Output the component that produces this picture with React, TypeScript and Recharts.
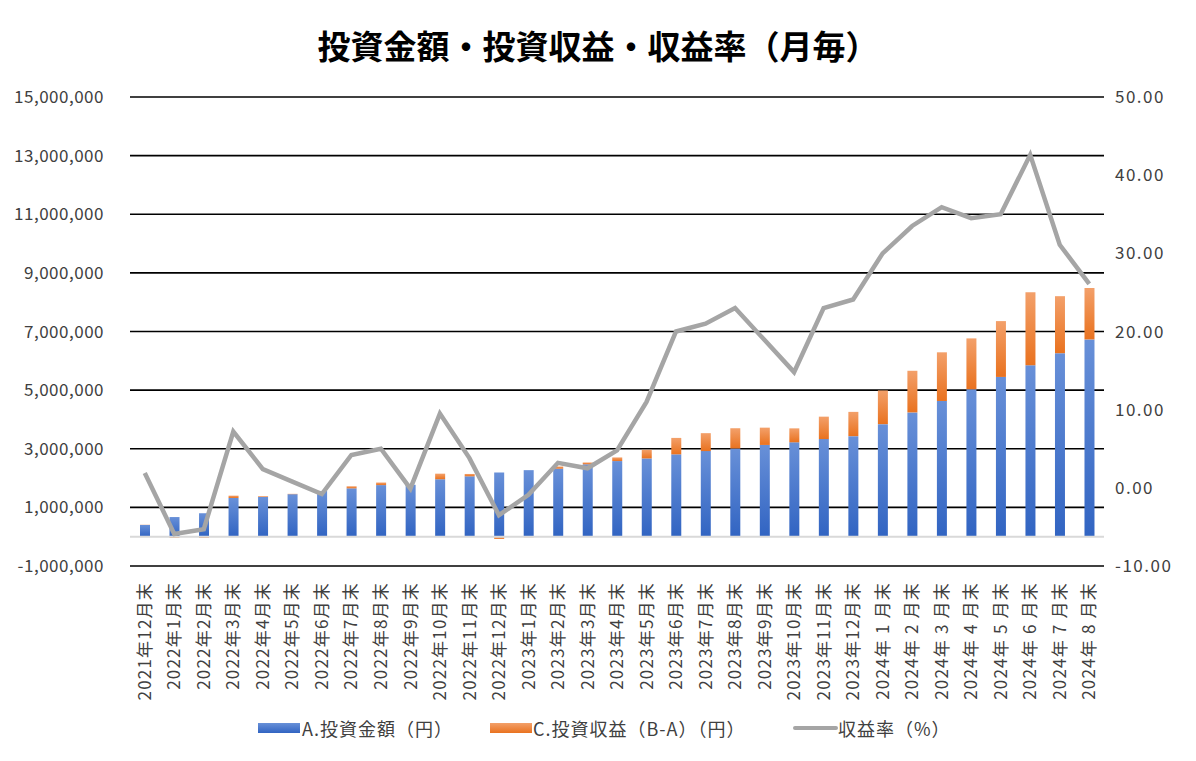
import React from 'react'
import {
  ComposedChart,
  Bar,
  Line,
  XAxis,
  YAxis,
  CartesianGrid,
  ReferenceLine,
} from 'recharts'

const months = [
  '2021年12月末',
  '2022年1月末', '2022年2月末', '2022年3月末', '2022年4月末', '2022年5月末', '2022年6月末',
  '2022年7月末', '2022年8月末', '2022年9月末', '2022年10月末', '2022年11月末', '2022年12月末',
  '2023年1月末', '2023年2月末', '2023年3月末', '2023年4月末', '2023年5月末', '2023年6月末',
  '2023年7月末', '2023年8月末', '2023年9月末', '2023年10月末', '2023年11月末', '2023年12月末',
  '2024年 1 月末', '2024年 2 月末', '2024年 3 月末', '2024年 4 月末',
  '2024年 5 月末', '2024年 6 月末', '2024年 7 月末', '2024年 8 月末',
]

// A. 投資金額（円）
const investment = [
  400000,
  670000, 800000, 1320000, 1350000, 1450000, 1560000,
  1650000, 1760000, 1770000, 1960000, 2060000, 2190000,
  2270000, 2320000, 2470000, 2580000, 2670000, 2810000,
  2920000, 3010000, 3130000, 3220000, 3330000, 3430000,
  3840000, 4240000, 4630000, 5030000,
  5450000, 5850000, 6260000, 6730000,
]

// C. 投資収益（B-A）（円）
const profit = [
  8000,
  -40000, -42000, 80000, 32000, 12000, -12000,
  70000, 88000, -2000, 190000, 80000, -76000,
  -20000, 74000, 62000, 124000, 294000, 560000,
  612000, 690000, 590000, 476000, 765000, 828000,
  1150000, 1420000, 1660000, 1735000,
  1905000, 2490000, 1945000, 1755000,
]

// 収益率（%）
const rate = [
  1.9,
  -5.9, -5.3, 7.2, 2.4, 0.8, -0.8,
  4.2, 5.0, -0.1, 9.5, 3.8, -3.5,
  -0.9, 3.2, 2.5, 4.8, 11.0, 20.0,
  21.0, 23.0, 18.9, 14.8, 23.0, 24.1,
  30.0, 33.5, 35.9, 34.5,
  35.0, 42.6, 31.1, 26.1,
]

const leftTicks = [-1000000, 1000000, 3000000, 5000000, 7000000, 9000000, 11000000, 13000000, 15000000]
const rightTicks = [-10, 0, 10, 20, 30, 40, 50]

const data = months.map((m, i) => ({
  month: m,
  investment: investment[i],
  profit: profit[i],
  rate: rate[i],
}))

const FONT = '"Noto Sans CJK JP", "Noto Sans", sans-serif'

function MonthTick(props: any) {
  const { x, y, payload } = props
  return (
    <text
      x={x}
      y={y}
      transform={`rotate(-90, ${x}, ${y})`}
      textAnchor="end"
      dy="0.36em"
      fill="#404040"
      fontSize={17}
      letterSpacing={1.2}
      fontFamily={FONT}
    >
      {payload.value}
    </text>
  )
}

export default function App() {
  return (
    <div style={{ position: 'relative', width: 1180, height: 745, fontFamily: FONT }}>
      <div
        style={{
          position: 'absolute',
          left: 0,
          top: 13,
          width: 1180,
          textAlign: 'center',
          fontSize: 33,
          fontWeight: 700,
          color: '#000',
        }}
      >
        投資金額・投資収益・収益率（月毎）
      </div>
      <ComposedChart
        width={1180}
        height={745}
        data={data}
        stackOffset="sign"
        margin={{ top: 89, right: 0, left: 0, bottom: 0 }}
      >
        <defs>
          <linearGradient id="gBlue" x1="0" y1="0" x2="0" y2="1">
            <stop offset="0%" stopColor="#6890d8" />
            <stop offset="100%" stopColor="#3164c2" />
          </linearGradient>
          <linearGradient id="gOrange" x1="0" y1="0" x2="0" y2="1">
            <stop offset="0%" stopColor="#f3a06a" />
            <stop offset="100%" stopColor="#e9721f" />
          </linearGradient>
        </defs>
        <CartesianGrid yAxisId="left" vertical={false} stroke="#000" strokeWidth={1.6} />
        <XAxis
          dataKey="month"
          height={187}
          interval={0}
          tickLine={false}
          axisLine={false}
          tickMargin={10}
          tick={<MonthTick />}
        />
        <YAxis
          yAxisId="left"
          width={122}
          domain={[-1000000, 15000000]}
          ticks={leftTicks}
          tickLine={false}
          axisLine={false}
          tickMargin={20}
          tick={{ fill: '#404040', fontSize: 17, fontFamily: FONT, letterSpacing: 0.5 }}
          tickFormatter={(v: number) => v.toLocaleString('en-US')}
        />
        <YAxis
          yAxisId="right"
          orientation="right"
          width={84}
          domain={[-10, 50]}
          ticks={rightTicks}
          tickLine={false}
          axisLine={false}
          tickMargin={5}
          tick={{ fill: '#404040', fontSize: 17, fontFamily: FONT, letterSpacing: 1.5 }}
          tickFormatter={(v: number) => v.toFixed(2)}
        />
        <ReferenceLine yAxisId="left" y={0} stroke="#d9d9d9" strokeWidth={2} />
        <Bar
          yAxisId="left"
          dataKey="investment"
          stackId="a"
          fill="url(#gBlue)"
          barSize={10}
          isAnimationActive={false}
        />
        <Bar
          yAxisId="left"
          dataKey="profit"
          stackId="a"
          fill="url(#gOrange)"
          barSize={10}
          isAnimationActive={false}
        />
        <Line
          yAxisId="right"
          dataKey="rate"
          type="linear"
          stroke="#a5a5a5"
          strokeWidth={4.5}
          dot={false}
          activeDot={false}
          isAnimationActive={false}
        />
      </ComposedChart>
      <div style={{ position: 'absolute', left: 0, top: 708, width: 1180, height: 24, fontSize: 18, letterSpacing: 1, color: '#404040' }}>
        <div style={{ position: 'absolute', left: 250, top: 7, width: 42, height: 10, background: 'linear-gradient(#6890d8, #3164c2)' }} />
        <div style={{ position: 'absolute', left: 294, top: 0, lineHeight: '24px' }}>A.投資金額（円）</div>
        <div style={{ position: 'absolute', left: 482, top: 7, width: 42, height: 10, background: 'linear-gradient(#f3a06a, #e9721f)' }} />
        <div style={{ position: 'absolute', left: 525, top: 0, lineHeight: '24px' }}>C.投資収益（B-A）（円）</div>
        <div style={{ position: 'absolute', left: 785, top: 10, width: 45, height: 4, background: '#a5a5a5', borderRadius: 2 }} />
        <div style={{ position: 'absolute', left: 830, top: 0, lineHeight: '24px' }}>収益率（%）</div>
      </div>
    </div>
  )
}
